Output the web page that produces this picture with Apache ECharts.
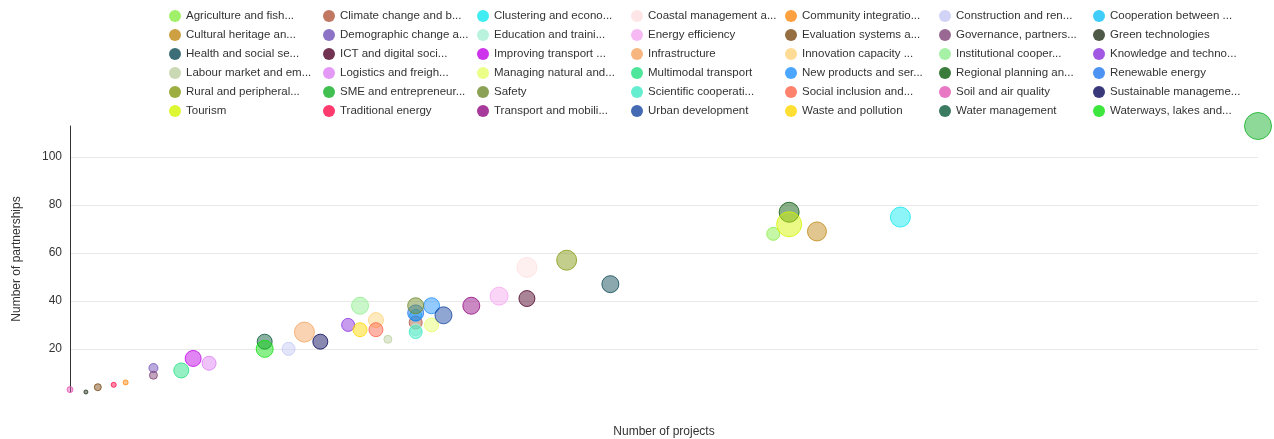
<!DOCTYPE html>
<html>
<head>
<meta charset="utf-8">
<script src="https://cdn.jsdelivr.net/npm/echarts@6/dist/echarts.min.js"></script>
<style>
html,body{margin:0;padding:0;background:#fff;}
#chart{width:1274px;height:439px;}
</style>
</head>
<body>
<div id="chart"></div>
<script>
// Categories (legend labels as displayed)
const categories = [
  "Agriculture and fish...", "Climate change and b...", "Clustering and econo...", "Coastal management a...", "Community integratio...", "Construction and ren...", "Cooperation between ...",
  "Cultural heritage an...", "Demographic change a...", "Education and traini...", "Energy efficiency", "Evaluation systems a...", "Governance, partners...", "Green technologies",
  "Health and social se...", "ICT and digital soci...", "Improving transport ...", "Infrastructure", "Innovation capacity ...", "Institutional cooper...", "Knowledge and techno...",
  "Labour market and em...", "Logistics and freigh...", "Managing natural and...", "Multimodal transport", "New products and ser...", "Regional planning an...", "Renewable energy",
  "Rural and peripheral...", "SME and entrepreneur...", "Safety", "Scientific cooperati...", "Social inclusion and...", "Soil and air quality", "Sustainable manageme...",
  "Tourism", "Traditional energy", "Transport and mobili...", "Urban development", "Waste and pollution", "Water management", "Waterways, lakes and..."
];
// Number of projects (x)
const projects = [
  178, 88, 210, 116, 15, 56, 88,
  189, 22, 88, 109, 8, 22, 5,
  137, 116, 32, 60, 78, 74, 71,
  81, 36, 92, 29, 92, 182, 88,
  126, 300, 88, 88, 78, 1, 64,
  182, 12, 102, 95, 74, 50, 50
];
// Number of partnerships (y)
const partnerships = [
  68, 31, 75, 54, 6, 20, 34,
  69, 12, 28, 42, 4, 9, 2,
  47, 41, 16, 27, 32, 38, 30,
  24, 14, 30, 11, 38, 77, 35,
  57, 113, 38, 27, 28, 3, 23,
  72, 5, 38, 34, 28, 23, 20
];
// Bubble size metric
const budget = [
  18.8, 18.8, 44.4, 44.4, 2.8, 18.8, 16,
  40.1, 9, 16, 36, 5.4, 7.1, 1.8,
  32.1, 28.4, 28.4, 44.4, 25, 32.1, 18.8,
  7.1, 21.8, 21.8, 25, 28.4, 44.4, 28.4,
  44.4, 81, 28.4, 18.8, 21.8, 4, 25,
  69.4, 2.8, 32.1, 32.1, 21.8, 25, 32.1
];
const colors = [
  "#88EE44", "#B0563C", "#11E8F0", "#FFE0E0", "#FF8A10", "#C4C8F4", "#10C0F8",
  "#C08814", "#7050B8", "#A8F0D4", "#F5A8F0", "#7B4A12", "#804478", "#22301A",
  "#0D4A55", "#4D0026", "#BF00E6", "#F5A460", "#FFD37A", "#90EE90", "#8A30DC",
  "#BDD0A0", "#DE80F5", "#E6FF6A", "#22E082", "#1E90FF", "#0A5A0A", "#1F78F0",
  "#84980F", "#12B026", "#6E8A2A", "#3EE8C4", "#FF6347", "#E255B5", "#06065A",
  "#D4F500", "#FF0A48", "#90087F", "#1445A0", "#FFD700", "#0A5A3A", "#0DE00D"
];

function rgba(hex, a) {
  const n = parseInt(hex.slice(1), 16);
  return 'rgba(' + ((n >> 16) & 255) + ',' + ((n >> 8) & 255) + ',' + (n & 255) + ',' + a + ')';
}

const FONT = '"Liberation Sans", Arial, sans-serif';
const chart = echarts.init(document.getElementById('chart'), null, {renderer: 'canvas'});

const series = categories.map((name, i) => ({
  name: name,
  type: 'scatter',
  data: [[projects[i], partnerships[i], budget[i]]],
  symbolSize: v => Math.sqrt(v[2]) * 3,
  itemStyle: {color: rgba(colors[i], 0.6), borderColor: colors[i], borderWidth: 1},
  emphasis: {disabled: true}
}));

const colLeft = [169, 323, 477, 631, 785, 939, 1093];
const legends = colLeft.map((left, c) => ({
  orient: 'vertical',
  left: left,
  top: 9,
  padding: 0,
  itemWidth: 12,
  itemHeight: 12,
  itemGap: 5,
  icon: 'circle',
  selectedMode: false,
  textStyle: {fontSize: 11.5, color: '#333', fontFamily: FONT, lineHeight: 14},
  data: categories.map((n, i) => ({name: n, i: i})).filter(o => o.i % 7 === c)
    .map(o => ({name: o.name, itemStyle: {color: colors[o.i], borderWidth: 0}}))
}));

chart.setOption({
  animation: false,
  textStyle: {fontFamily: FONT},
  legend: legends,
  grid: {left: 70, right: 16, top: 126, bottom: 47, containLabel: false, outerBoundsMode: 'none'},
  xAxis: {
    type: 'value', min: 'dataMin', max: 'dataMax',
    name: 'Number of projects', nameLocation: 'middle', nameGap: 34,
    nameTextStyle: {fontSize: 12, color: '#333', fontFamily: FONT},
    axisLine: {show: false}, axisTick: {show: false}, axisLabel: {show: false}, splitLine: {show: false}
  },
  yAxis: {
    type: 'value', min: 'dataMin', max: 'dataMax',
    name: 'Number of partnerships', nameLocation: 'middle', nameGap: 47,
    nameTextStyle: {fontSize: 12, color: '#333', fontFamily: FONT},
    axisLine: {show: true, lineStyle: {color: '#333', width: 1}},
    axisTick: {show: false},
    axisLabel: {fontSize: 12, color: '#333', margin: 8, showMinLabel: false, showMaxLabel: false, fontFamily: FONT},
    splitLine: {show: true, showMinLine: false, showMaxLine: false, lineStyle: {color: '#e8e8e8'}}
  },
  series: series
});
</script>
</body>
</html>
